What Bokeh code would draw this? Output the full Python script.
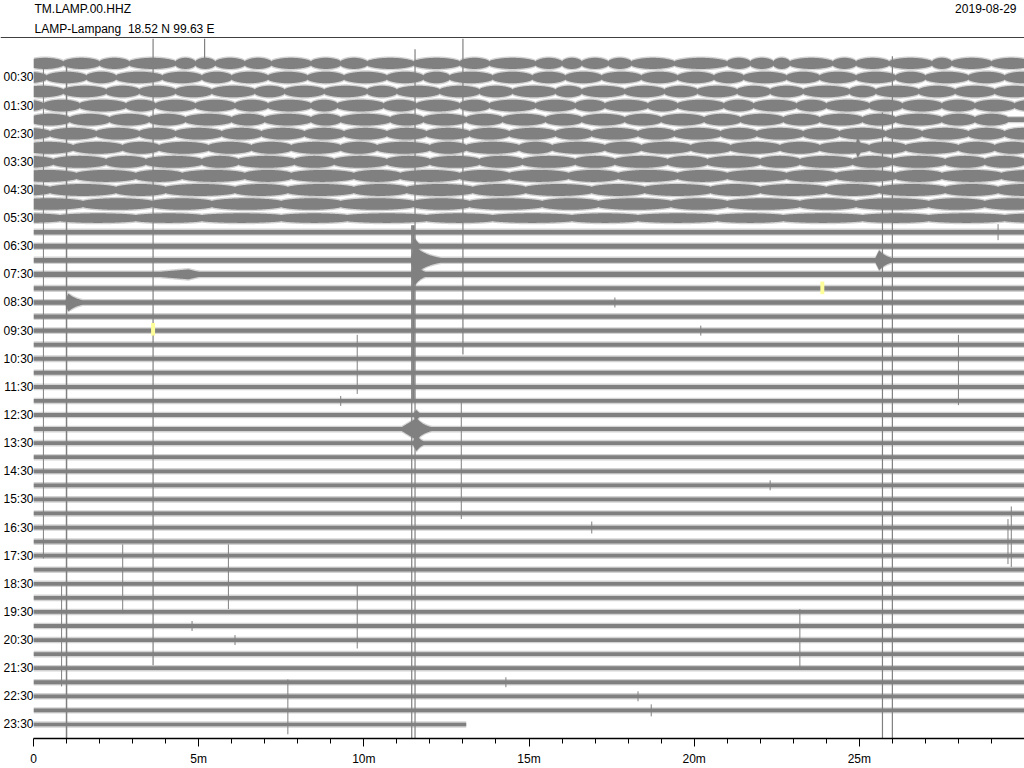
import numpy as np
from bokeh.plotting import figure
from bokeh.layouts import column
from bokeh.models import Range1d, FixedTicker
from bokeh.core.properties import value
from bokeh.embed import file_html
from bokeh.resources import INLINE

# ---------------- data ----------------
station = "TM.LAMP.00.HHZ"
location = "LAMP-Lampang\u00a0 18.52 N 99.63 E"
date_text = "2019-08-29"

row_labels = ["00:30", "01:30", "02:30", "03:30", "04:30", "05:30", "06:30", "07:30",
              "08:30", "09:30", "10:30", "11:30", "12:30", "13:30", "14:30", "15:30",
              "16:30", "17:30", "18:30", "19:30", "20:30", "21:30", "22:30", "23:30"]
x_tick_minutes = [0, 5, 10, 15, 20, 25]
x_tick_labels = ["0", "5m", "10m", "15m", "20m", "25m"]

# microseism "lens" rows 00:00 .. 05:30 : minutes where the envelope pinches
lens_pinches = [
    [0.9, 2.0, 2.9, 4.3, 4.9, 5.5, 6.4, 7.2, 8.4, 9.3, 10.1, 11.5, 12.9, 13.8, 15.2, 16.0,
     16.6, 17.4, 18.1, 19.4, 21.0, 21.7, 22.4, 22.9, 24.2, 24.9, 25.9, 27.2, 27.8, 29.0],
    [0.4, 1.6, 2.5, 3.9, 5.1, 6.0, 7.1, 8.3, 9.4, 10.7, 11.8, 12.6, 13.9, 15.1, 16.1,
     17.2, 18.4, 19.5, 20.6, 21.5, 22.8, 23.8, 24.9, 26.1, 27.0, 28.3, 29.4],
    [0.9, 2.2, 3.2, 4.3, 5.4, 6.7, 7.6, 8.8, 10.1, 11.0, 12.3, 13.5, 14.5, 15.8, 16.6,
     17.9, 19.1, 20.1, 21.3, 22.3, 23.3, 24.7, 25.5, 26.8, 27.9, 29.1],
    [0.3, 1.4, 2.8, 3.7, 4.9, 6.1, 7.1, 8.4, 9.2, 10.6, 11.6, 12.9, 13.8, 15.2, 16.4,
     17.3, 18.6, 19.5, 20.9, 21.8, 23.1, 24.0, 25.3, 26.3, 27.5, 28.5, 29.7],
    [1.1, 2.3, 3.5, 4.6, 6.0, 7.0, 8.4, 9.3, 10.8, 11.8, 13.1, 14.2, 15.5, 16.6, 17.9,
     19.0, 20.3, 21.4, 22.7, 23.8, 25.1, 26.1, 27.5, 28.5],
    [0.5, 1.9, 3.2, 4.3, 5.7, 6.9, 8.2, 9.4, 10.7, 11.9, 13.2, 14.4, 15.8, 16.9, 18.3,
     19.4, 20.8, 21.9, 23.3, 24.4, 25.8, 26.9, 28.3, 29.4],
    [1.2, 2.7, 3.8, 5.3, 6.6, 7.8, 9.3, 10.4, 12.0, 13.1, 14.7, 15.7, 17.3, 18.4, 19.9,
     21.1, 22.6, 23.8, 25.3, 26.4, 28.0, 29.1],
    [0.6, 2.2, 3.4, 5.1, 6.2, 7.9, 9.1, 10.7, 12.0, 13.5, 14.8, 16.4, 17.6, 19.2, 20.4,
     22.0, 23.2, 24.8, 26.0, 27.6, 28.8],
    [1.3, 3.1, 4.5, 6.4, 7.8, 9.7, 11.1, 12.9, 14.4, 16.2, 17.7, 19.5, 21.0, 22.8, 24.3,
     26.1, 27.5, 29.3],
    [0.5, 2.5, 4.0, 6.1, 7.7, 9.7, 11.3, 13.3, 14.9, 16.9, 18.5, 20.5, 22.0, 24.0, 25.6,
     27.6, 29.2],
    [1.5, 3.6, 5.4, 7.5, 9.3, 11.5, 13.2, 15.4, 17.1, 19.3, 21.0, 23.2, 24.9, 27.1, 28.8],
    [0.8, 3.1, 5.1, 7.5, 9.5, 11.9, 13.9, 16.3, 18.3, 20.7, 22.7, 25.1, 27.1, 29.4],
]
lens_max_px = [5.6, 5.8, 5.8, 5.9, 5.9, 5.9, 6.0, 6.0, 6.0, 6.0, 5.8, 4.8]
lens_min_px = [2.0, 2.0, 2.1, 2.2, 2.3, 2.4, 2.6, 2.7, 2.9, 3.0, 3.0, 3.0]

# quiet rows 06:00 .. 23:30 : half-height of the noise band (px)
quiet_amp_px = [2.3, 2.4, 2.4, 2.6, 2.2, 2.2, 2.1, 2.1, 2.0, 2.0, 2.0, 2.0,
                1.9, 1.9, 2.0, 1.9, 1.9, 1.9, 1.9, 1.9, 1.9, 1.9, 1.9, 1.9,
                1.9, 1.9, 1.9, 1.9, 1.9, 1.9, 1.9, 1.9, 1.9, 1.9, 1.8, 1.8]
last_row_end_min = 13.1

# earthquakes / bursts: row, start, peak, end (minutes), half amplitude (px)
ev_row = [17, 14, 15, 13, 15, 26, 27, 25, 6, 14]
ev_start = [0.95, 11.40, 11.40, 11.45, 2.9, 11.05, 11.45, 11.45, 24.85, 25.45]
ev_peak = [1.05, 11.55, 11.55, 11.55, 4.7, 11.60, 11.60, 11.60, 24.95, 25.60]
ev_end = [2.0, 12.9, 12.2, 11.9, 6.2, 12.40, 12.05, 11.9, 25.35, 26.40]
ev_amp = [9.0, 14.0, 11.0, 8.0, 5.0, 11.0, 8.0, 5.0, 10.0, 10.0]

# long clipped spikes crossing several rows: minute, top row, bottom row, width
vl_min = [3.62, 5.18, 13.0, 11.45, 11.55, 11.5, 1.0, 0.85, 0.3, 25.7, 26.0,
          9.8, 9.8, 2.7, 5.9, 7.7, 23.2, 28.0, 29.5, 12.95, 29.6]
vl_top = [-1.77, -1.77, -1.77, 11.5, -1.0, 11.5, 0.0, 37.0, 0.0, 3.5, -0.5,
          19.3, 37.0, 34.2, 34.2, 43.8, 38.8, 19.3, 32.4, 24.0, 31.5]
vl_bot = [42.8, 0.0, 20.7, 48.0, 48.0, 24.0, 48.0, 44.3, 35.2, 48.0, 48.0,
          23.5, 41.6, 39.1, 38.8, 47.7, 43.0, 24.3, 35.6, 32.4, 35.8]
vl_width = [1.2, 1.2, 1.2, 1.2, 1.2, 2.5, 1.5, 1.0, 1.0, 1.2, 1.2,
            1.0, 1.0, 1.0, 1.0, 1.0, 1.0, 1.0, 1.0, 1.0, 1.0]

# short isolated spikes: minute, row, half length (px)
sp_min = [29.2, 16.9, 18.7, 18.3, 4.8, 20.2, 6.1, 22.3, 14.3, 24.9, 17.6, 9.3]
sp_row = [12, 33, 46, 45, 40, 19, 41, 30, 44, 8, 17, 24]
sp_len = [8, 6, 6, 5, 5, 5, 5, 5, 5, 6, 5, 5]

# yellow picks
mark_min = [23.88, 3.62]
mark_row = [15.96, 18.9]

# ---------------- drawing ----------------
GRAY = "#808080"
FONT = "Liberation Sans"
W = 1024
HEAD_H = 38
MAIN_H = 768 - HEAD_H
Y_TOP, Y_BOT = -1.77, 48.0
ROW_PX = (MAIN_H - 28) / (Y_BOT - Y_TOP)

# header strip (texts and the full-width rule)
head = figure(width=W, height=HEAD_H, x_range=Range1d(0, W), y_range=Range1d(HEAD_H, 0),
              output_backend="svg", toolbar_location=None, x_axis_type=None, y_axis_type=None,
              min_border=0, min_border_left=0, min_border_right=0, min_border_top=0,
              min_border_bottom=0)
head.outline_line_color = None
head.grid.visible = False
head.text(x=[34, 34], y=[8, 28], text=[station, location], text_font=value(FONT),
          text_font_size="12px", text_baseline="middle", text_align="left", text_color="black")
head.text(x=[1016], y=[8], text=[date_text], text_font=value(FONT),
          text_font_size="12px", text_baseline="middle", text_align="right", text_color="black")
head.segment(x0=[0], y0=[HEAD_H - 0.7], x1=[W], y1=[HEAD_H - 0.7], line_color="black",
             line_width=1.3)

p = figure(width=W, height=MAIN_H, x_range=Range1d(0, 30), y_range=Range1d(Y_BOT, Y_TOP),
           output_backend="svg", toolbar_location=None,
           min_border_left=30, min_border_right=0, min_border_top=0, min_border_bottom=28)
p.outline_line_color = None
p.grid.visible = False
p.background_fill_color = "white"

for fig in (head, p):
    try:
        fig.frame_align = False
    except Exception:
        pass


def lens_envelope(x, pinches, amin, amax):
    edges = [pinches[0] - (pinches[1] - pinches[0])] + list(pinches) + \
            [pinches[-1] + (pinches[-1] - pinches[-2])]
    edges = np.array(edges)
    idx = np.clip(np.searchsorted(edges, x) - 1, 0, len(edges) - 2)
    t = (x - edges[idx]) / (edges[idx + 1] - edges[idx])
    return amin + (amax - amin) * np.sin(np.pi * np.clip(t, 0, 1)) ** 0.6


def event_envelope(x, s, pk, e, a):
    out = np.zeros_like(x)
    rise = (x >= s) & (x < pk)
    out[rise] = a * (x[rise] - s) / (pk - s)
    dec = (x >= pk) & (x <= e)
    out[dec] = a * np.exp(-3.0 * (x[dec] - pk) / (e - pk))
    return out


n_rows = len(lens_pinches) + len(quiet_amp_px)
for r in range(n_rows):
    end = 30.0 if r < n_rows - 1 else last_row_end_min
    x = np.linspace(0, end, int(end / 0.02) + 1)
    if r < len(lens_pinches):
        amp = lens_envelope(x, lens_pinches[r], lens_min_px[r], lens_max_px[r])
    else:
        amp = np.full_like(x, quiet_amp_px[r - len(lens_pinches)])
    for k in range(len(ev_row)):
        if ev_row[k] == r:
            amp = np.maximum(amp, event_envelope(x, ev_start[k], ev_peak[k], ev_end[k], ev_amp[k]))
    fringe = (amp + 1.4) / ROW_PX
    amp = amp / ROW_PX
    # soft fringe standing for the ragged spiky edge of the trace
    p.varea(x=x, y1=r - fringe, y2=r + fringe, fill_color=GRAY, fill_alpha=0.35)
    p.varea(x=x, y1=r - amp, y2=r + amp, fill_color=GRAY)

p.segment(x0=vl_min, y0=vl_top, x1=vl_min, y1=vl_bot, line_color=GRAY,
          line_width=vl_width)
sp_half = [v / ROW_PX for v in sp_len]
p.segment(x0=sp_min, y0=[r - h for r, h in zip(sp_row, sp_half)],
          x1=sp_min, y1=[r + h for r, h in zip(sp_row, sp_half)],
          line_color=GRAY, line_width=1)
p.rect(x=mark_min, y=mark_row, width=0.12, height=0.9, fill_color="#ffff99",
       line_color=None)

# axes
xa = p.xaxis[0]
xa.ticker = FixedTicker(ticks=x_tick_minutes, minor_ticks=list(range(1, 30)))
xa.major_label_overrides = {t: l for t, l in zip(x_tick_minutes, x_tick_labels)}
xa.axis_line_color = "black"
xa.axis_line_width = 1.3
xa.major_tick_in = 0
xa.major_tick_out = 8
xa.minor_tick_in = 0
xa.minor_tick_out = 5
xa.major_tick_line_color = "black"
xa.minor_tick_line_color = "black"
xa.major_label_standoff = 5
xa.major_label_text_font = FONT
xa.major_label_text_font_size = "12px"
xa.major_label_text_color = "black"

ya = p.yaxis[0]
row_ticks = [2 * i + 1 for i in range(len(row_labels))]
ya.ticker = FixedTicker(ticks=row_ticks, minor_ticks=[])
ya.major_label_overrides = {t: l for t, l in zip(row_ticks, row_labels)}
ya.axis_line_color = None
ya.major_tick_line_color = None
ya.minor_tick_line_color = None
ya.major_tick_in = 0
ya.major_tick_out = 0
ya.major_label_standoff = 0
ya.major_label_text_font = FONT
ya.major_label_text_font_size = "12px"
ya.major_label_text_color = "black"

layout = column(head, p, spacing=0)
open("out.html", "w").write(file_html(layout, INLINE))
